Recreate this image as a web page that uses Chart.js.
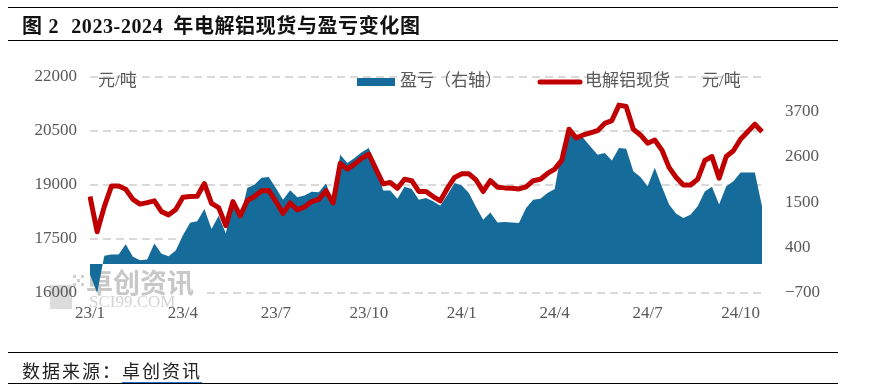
<!DOCTYPE html>
<html>
<head>
<meta charset="utf-8">
<title>电解铝现货与盈亏</title>
<script src="https://cdn.jsdelivr.net/npm/chart.js"></script>
<style>
  body { margin:0; background:#fff; }
  #wrap { position:relative; width:870px; height:391px; overflow:hidden; font-family:"Liberation Serif","Noto Sans CJK SC",serif; }
  #chartBox { position:absolute; left:0; top:0; width:870px; height:391px; }
  .rule { position:absolute; left:8px; width:830px; border-top:1.5px solid #000; }
  #title { position:absolute; left:22px; top:10px; font-size:20px; font-weight:bold; color:#111; white-space:nowrap; letter-spacing:0.6px; }
  #source { position:absolute; left:22px; top:357px; font-size:18px; color:#222; white-space:nowrap; letter-spacing:2px; }
  #source u { text-decoration:none; border-bottom:1.5px solid #2a6fd8; }
</style>
</head>
<body>
<div id="wrap">
  <div id="chartBox"><canvas id="chart" width="870" height="391"></canvas></div>
  <div class="rule" style="top:7px"></div>
  <div id="title">图<span style="margin-left:6px">2</span><span style="margin-left:12px">2023-2024</span><span style="margin-left:10px">年电解铝现货与盈亏变化图</span></div>
  <div class="rule" style="top:40px"></div>
  <div class="rule" style="top:352px"></div>
  <div id="source">数据来源：<u>卓创资讯</u></div>
  <div class="rule" style="top:383px"></div>
</div>

<script>
  // weekly data, Jan 2023 - Oct 2024
  const priceSpot = [
    18680, 17700, 18400, 18970, 18970, 18880, 18600, 18470, 18510, 18560,
    18260, 18170, 18320, 18660, 18680, 18690, 19040, 18490, 18370, 17870,
    18540, 18140, 18570, 18680, 18840, 18850, 18540, 18210, 18500, 18310,
    18390, 18540, 18600, 18840, 18500, 19600, 19440, 19580, 19740, 19860,
    19440, 19030, 19070, 18910, 19160, 19120, 18820, 18820, 18680, 18560,
    18910, 19210, 19310, 19310, 19140, 18820, 19120, 18940, 18920, 18910,
    18890, 18950, 19120, 19160, 19320, 19440, 19690, 20550, 20310, 20390,
    20450, 20510, 20710, 20790, 21220, 21180, 20550, 20390, 20160, 20250,
    19970, 19490, 19210, 19000, 19000, 19160, 19680, 19790, 19190, 19790,
    19950, 20270, 20480, 20690, 20480
  ];
  const profitLoss = [
    -250, -700, 200, 230, 230, 480, 180, 95, 110, 500,
    250, 190, 330, 700, 1000, 1040, 1335, 850, 1170, 740,
    1540, 1090, 1840, 1920, 2090, 2110, 1840, 1560, 1790, 1620,
    1660, 1750, 1740, 1950, 1520, 2650, 2450, 2570, 2710, 2810,
    2370, 1780, 1780, 1580, 1870, 1820, 1560, 1600, 1520, 1415,
    1680, 1965, 1900, 1720, 1385, 1075, 1250, 1010, 1020, 1010,
    995, 1360, 1560, 1580, 1720, 1820, 2770, 3200, 3095, 3055,
    2850, 2650, 2690, 2510, 2810, 2790, 2245, 2110, 1885, 2330,
    1870, 1440, 1220, 1115, 1195, 1400, 1760, 1870, 1440, 1885,
    2005, 2220, 2220, 2220, 1400
  ];
  const tickIndex = [0, 13, 26, 39, 52, 65, 78, 91];
  const tickText = ['23/1', '23/4', '23/7', '23/10', '24/1', '24/4', '24/7', '24/10'];
  const rightTicks = [-700, 400, 1500, 2600, 3700];

  const weeks = priceSpot.map((_, i) => i);
  const tickFont = { family: 'Liberation Serif', size: 17 };
  const grey = '#595959';
  const cjkFont = '17px "Liberation Serif", "Noto Sans CJK SC"';
  const plain = v => (v < 0 ? '\u2212' + Math.abs(v) : String(v));

  const watermark = {
    id: 'watermark',
    beforeDatasetsDraw(chart) {
      const ctx = chart.ctx;
      ctx.save();
      ctx.fillStyle = '#fff';
      ctx.fillRect(46, 268, 158, 33);
      ctx.fillStyle = '#dcdcdc';
      ctx.fillRect(50, 285, 22, 24);
      ctx.fillStyle = '#d0d0d0';
      for (let r = 0; r < 3; r++) {
        for (let c = 0; c < 3; c++) {
          if ((r + c) % 2 === 0) ctx.fillRect(73 + c * 4, 275 + r * 4, 3, 3);
        }
      }
      ctx.fillStyle = '#c8c8c8';
      ctx.font = 'bold 27px "Noto Sans CJK SC"';
      ctx.textBaseline = 'middle';
      ctx.fillText('卓创资讯', 86, 283);
      ctx.fillStyle = '#d4d4d4';
      ctx.font = '17px "Liberation Serif"';
      ctx.fillText('SCI99.COM', 89, 303);
      ctx.restore();
    }
  };

  const legendLabels = {
    id: 'legendLabels',
    afterDraw(chart) {
      const ctx = chart.ctx;
      ctx.save();
      ctx.font = cjkFont;
      ctx.fillStyle = grey;
      ctx.textBaseline = 'middle';
      ctx.fillText('元/吨', 98, 82);
      ctx.fillText('元/吨', 702, 82);
      ctx.fillStyle = '#156B9A';
      ctx.fillRect(357, 78, 38, 8);
      ctx.fillStyle = grey;
      ctx.fillText('盈亏（右轴）', 400, 82);
      ctx.strokeStyle = '#C00000';
      ctx.lineWidth = 5;
      ctx.lineCap = 'round';
      ctx.beginPath();
      ctx.moveTo(540, 82);
      ctx.lineTo(580, 82);
      ctx.stroke();
      ctx.fillText('电解铝现货', 585, 82);
      ctx.restore();
    }
  };

  new Chart(document.getElementById('chart'), {
    type: 'line',
    data: {
      labels: weeks,
      datasets: [
        {
          label: '电解铝现货',
          data: priceSpot,
          yAxisID: 'y',
          borderColor: '#C00000',
          borderWidth: 5,
          borderJoinStyle: 'round',
          pointRadius: 0,
          tension: 0,
          fill: false,
          order: 0
        },
        {
          label: '盈亏（右轴）',
          data: profitLoss,
          yAxisID: 'y1',
          backgroundColor: '#156B9A',
          borderWidth: 0,
          pointRadius: 0,
          tension: 0,
          fill: 'origin',
          order: 1
        }
      ]
    },
    options: {
      responsive: false,
      animation: false,
      layout: { padding: { left: 0, right: 48, top: 77, bottom: 58 } },
      plugins: { legend: { display: false }, tooltip: { enabled: false } },
      scales: {
        x: {
          type: 'category',
          offset: false,
          grid: { display: false },
          border: { display: false },
          ticks: {
            autoSkip: false, maxRotation: 0, color: grey, font: tickFont, padding: 2, z: 1,
            callback: (v, i) => {
              const k = tickIndex.indexOf(i);
              return k >= 0 ? tickText[k] : null;
            }
          },
          afterFit: s => { s.height = 40; }
        },
        y: {
          position: 'left',
          min: 16000, max: 22000,
          grid: { color: '#d9d9d9', lineWidth: 2, drawTicks: false },
          border: { display: false, dash: [8, 5] },
          ticks: { stepSize: 1500, color: grey, font: tickFont, padding: 13, z: 1, callback: plain },
          afterFit: s => { s.width = 90; }
        },
        y1: {
          position: 'right',
          min: -700, max: 4530,
          grid: { display: false },
          border: { display: false },
          ticks: { color: grey, font: tickFont, padding: 15, callback: plain },
          afterBuildTicks: s => { s.ticks = rightTicks.map(v => ({ value: v })); },
          afterFit: s => { s.width = 60; }
        }
      }
    },
    plugins: [watermark, legendLabels]
  });
</script>
</body>
</html>
